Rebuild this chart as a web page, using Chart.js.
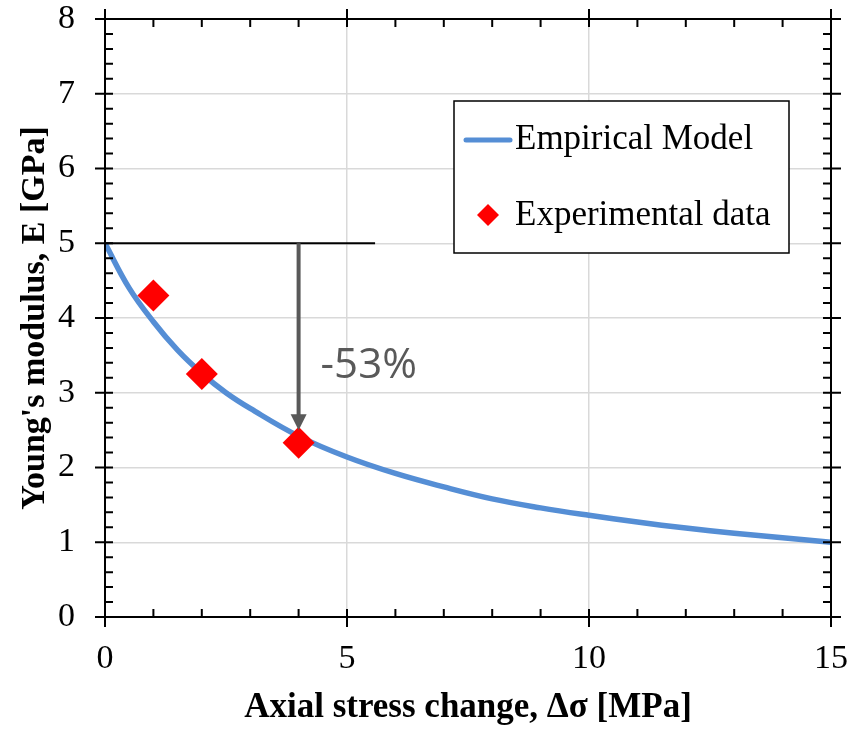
<!DOCTYPE html>
<html>
<head>
<meta charset="utf-8">
<script src="https://cdn.jsdelivr.net/npm/chart.js@4/dist/chart.umd.min.js"></script>
<style>
  html, body { margin: 0; padding: 0; background: #fff; }
  #chart { display: block; }
</style>
</head>
<body>
<canvas id="chart" width="853" height="729"></canvas>
<script>
// values
const modelX = [0, 0.5, 1, 1.5, 2, 2.5, 3, 4, 5, 6, 7, 8, 9, 10, 11, 12, 13, 14, 15];
const modelE = [5.0, 4.4, 3.95, 3.57, 3.26, 3.0, 2.79, 2.42, 2.14, 1.92, 1.74, 1.58, 1.46, 1.36, 1.27, 1.19, 1.12, 1.06, 1.0];

const expX = [1, 2, 4];
const expE = [4.3, 3.25, 2.33];

const xTicks = [0, 5, 10, 15];
const yTicks = [0, 1, 2, 3, 4, 5, 6, 7, 8];

// annotation: reference line at E=5, arrow down to the 4 MPa point
const refLine = { y: 5, x0: 0, x1: 5.58 };
const arrow = { x: 4, y0: 5, y1: 2.5, label: "-53%" };

const SERIF = "'Liberation Serif', 'Times New Roman', serif";

function xy(xs, ys) {
  return xs.map((x, i) => ({ x: x, y: ys[i] }));
}

// frame, mirrored ticks, annotation and legend
const decor = {
  id: "decor",
  afterDatasetsDraw(chart) {
    const c = chart.ctx;
    const a = chart.chartArea;
    const sx = chart.scales.x;
    const sy = chart.scales.y;
    c.save();

    // reference line
    c.strokeStyle = "#000";
    c.lineWidth = 2;
    c.beginPath();
    c.moveTo(sx.getPixelForValue(refLine.x0), sy.getPixelForValue(refLine.y));
    c.lineTo(sx.getPixelForValue(refLine.x1), sy.getPixelForValue(refLine.y));
    c.stroke();

    // arrow
    const ax = sx.getPixelForValue(arrow.x);
    const ay0 = sy.getPixelForValue(arrow.y0);
    const ay1 = sy.getPixelForValue(arrow.y1);
    c.strokeStyle = "#595959";
    c.fillStyle = "#595959";
    c.lineWidth = 4;
    c.beginPath();
    c.moveTo(ax, ay0);
    c.lineTo(ax, ay1 - 14);
    c.stroke();
    c.beginPath();
    c.moveTo(ax - 8, ay1 - 16);
    c.lineTo(ax + 8, ay1 - 16);
    c.lineTo(ax, ay1);
    c.closePath();
    c.fill();

    c.font = "42px 'Open Sans', 'DejaVu Sans', sans-serif";
    c.textAlign = "left";
    c.textBaseline = "middle";
    c.fillText(arrow.label, ax + 22, sy.getPixelForValue(3.36));

    // frame
    c.strokeStyle = "#000";
    c.lineWidth = 2;
    c.strokeRect(a.left, a.top, a.right - a.left, a.bottom - a.top);

    // x ticks (minor every 1, major every 5), bottom and top
    c.lineWidth = 2;
    for (let v = 0; v <= 15; v++) {
      const px = sx.getPixelForValue(v);
      const major = v % 5 === 0;
      c.beginPath();
      c.moveTo(px, a.bottom - 8);
      c.lineTo(px, a.bottom + (major ? 10 : 0));
      c.moveTo(px, a.top + 8);
      c.lineTo(px, a.top - (major ? 10 : 0));
      c.stroke();
    }
    // y ticks (minor every 0.2, major every 1), left and right
    for (let k = 0; k <= 40; k++) {
      const py = sy.getPixelForValue(k * 0.2);
      const major = k % 5 === 0;
      c.beginPath();
      c.moveTo(a.left + 8, py);
      c.lineTo(a.left - (major ? 10 : 0), py);
      c.moveTo(a.right - 8, py);
      c.lineTo(a.right + (major ? 10 : 0), py);
      c.stroke();
    }

    // legend box
    const lx = 454, ly = 101, lw = 335, lh = 152;
    c.fillStyle = "#fff";
    c.fillRect(lx, ly, lw, lh);
    c.strokeStyle = "#000";
    c.lineWidth = 1.5;
    c.strokeRect(lx, ly, lw, lh);

    c.strokeStyle = "#558ed5";
    c.lineWidth = 5;
    c.lineCap = "round";
    c.beginPath();
    c.moveTo(466, 140);
    c.lineTo(510, 140);
    c.stroke();

    c.fillStyle = "#ff0000";
    c.beginPath();
    c.moveTo(488, 204);
    c.lineTo(499, 215);
    c.lineTo(488, 226);
    c.lineTo(477, 215);
    c.closePath();
    c.fill();

    c.fillStyle = "#000";
    c.font = "35px " + SERIF;
    c.textAlign = "left";
    c.textBaseline = "middle";
    c.fillText("Empirical Model", 515, 140);
    c.fillText("Experimental data", 515, 216);

    c.restore();
  },
};

new Chart(document.getElementById("chart"), {
  type: "scatter",
  data: {
    datasets: [
      {
        label: "Empirical Model",
        data: xy(modelX, modelE),
        showLine: true,
        borderColor: "#558ed5",
        borderWidth: 5.5,
        pointRadius: 0,
        tension: 0.4,
        order: 2,
      },
      {
        label: "Experimental data",
        data: xy(expX, expE),
        pointStyle: "rectRot",
        pointRadius: 16,
        backgroundColor: "#ff0000",
        borderColor: "#ff0000",
        borderWidth: 0,
        order: 1,
      },
    ],
  },
  options: {
    responsive: false,
    animation: false,
    devicePixelRatio: 1,
    layout: { padding: { top: 0, right: 0, left: 0, bottom: 0 } },
    plugins: {
      legend: { display: false },
      tooltip: { enabled: false },
    },
    scales: {
      x: {
        type: "linear",
        min: 0,
        max: 15,
        afterBuildTicks: (s) => { s.ticks = xTicks.map((v) => ({ value: v })); },
        afterFit: (s) => {
          s.height = 112;
          s.paddingLeft = 0;
          s.paddingRight = 22;
        },
        grid: { color: "#d9d9d9", lineWidth: 1.5, drawTicks: false },
        border: { display: false },
        ticks: {
          padding: 22,
          color: "#000",
          font: { family: SERIF, size: 34 },
        },
        title: {
          display: true,
          text: "Axial stress change, Δσ [MPa]",
          color: "#000",
          font: { family: SERIF, size: 35, weight: "bold" },
          padding: { top: 4, bottom: 0 },
        },
      },
      y: {
        type: "linear",
        min: 0,
        max: 8,
        afterBuildTicks: (s) => { s.ticks = yTicks.map((v) => ({ value: v })); },
        afterFit: (s) => {
          s.width = 105;
          s.paddingTop = 19;
          s.paddingBottom = 0;
        },
        grid: { color: "#d9d9d9", lineWidth: 1.5, drawTicks: false },
        border: { display: false },
        ticks: {
          padding: 30,
          color: "#000",
          font: { family: SERIF, size: 34 },
        },
        title: {
          display: true,
          text: "Young's modulus, E [GPa]",
          color: "#000",
          font: { family: SERIF, size: 34, weight: "bold" },
          padding: { top: 15, bottom: 0 },
        },
      },
    },
  },
  plugins: [decor],
});
</script>
</body>
</html>
